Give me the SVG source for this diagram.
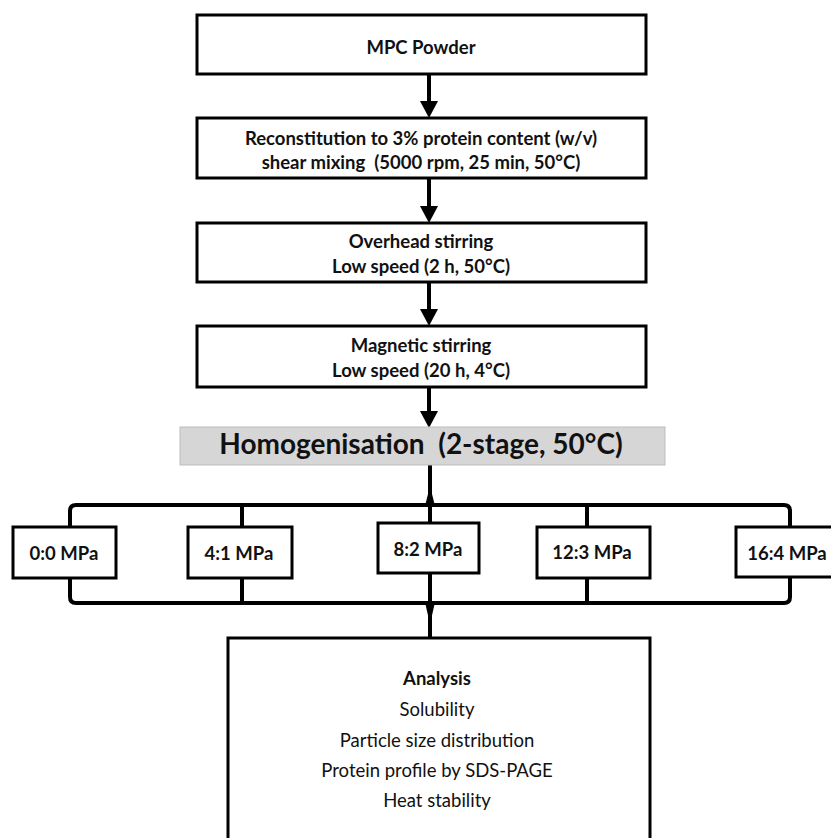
<svg xmlns="http://www.w3.org/2000/svg" width="831" height="838" viewBox="0 0 831 838">
<style>
.box{fill:#fff;stroke:#000;stroke-width:3}
.t{font-family:Lato,"Liberation Sans",sans-serif;font-weight:bold;fill:#111;text-anchor:middle}
.n{font-family:Lato,"Liberation Sans",sans-serif;fill:#111;text-anchor:middle}
.c{fill:none;stroke:#000;stroke-width:4}
</style>
<rect width="831" height="838" fill="#fff"/>
<g id="connectors">
<line class="c" x1="429" y1="74" x2="429" y2="101"/>
<path d="M420,101 L438,101 L429,118 Z"/>
<line class="c" x1="429" y1="178" x2="429" y2="206"/>
<path d="M420,206 L438,206 L429,223 Z"/>
<line class="c" x1="429" y1="282" x2="429" y2="309"/>
<path d="M420,309 L438,309 L429,326 Z"/>
<line class="c" x1="429" y1="387" x2="429" y2="411"/>
<path d="M420,411 L438,411 L429,428 Z"/>
<line class="c" x1="430" y1="465" x2="430" y2="523"/>
<path d="M425,506 L435,506 L431,490 L429,490 Z"/>
<path class="c" d="M70,527 V511 Q70,505 76,505 H784 Q790,505 790,511 V527"/>
<line class="c" x1="242" y1="505" x2="242" y2="527"/>
<line class="c" x1="587" y1="505" x2="587" y2="527"/>
<path class="c" d="M70,578 V597 Q70,603 76,603 H784 Q790,603 790,597 V578"/>
<line class="c" x1="242" y1="578" x2="242" y2="603"/>
<line class="c" x1="587" y1="578" x2="587" y2="603"/>
<line class="c" x1="430" y1="573" x2="430" y2="638"/>
<path d="M425,602 L435,602 L431,620 L429,620 Z"/>
</g>
<g id="mpc">
<rect class="box" x="197" y="15" width="449" height="59"/>
<text class="t" x="421" y="54" font-size="18.5">MPC Powder</text>
</g>
<g id="reconstitution">
<rect class="box" x="197" y="118" width="449" height="60"/>
<text class="t" x="421" y="145" font-size="18.5">Reconstitution to 3% protein content (w/v)</text>
<text class="t" x="421" y="169" font-size="18.5" xml:space="preserve">shear mixing  (5000 rpm, 25 min, 50°C)</text>
</g>
<g id="overhead">
<rect class="box" x="197" y="223" width="449" height="59"/>
<text class="t" x="421" y="248" font-size="18.5">Overhead stirring</text>
<text class="t" x="421" y="273" font-size="18.5">Low speed (2 h, 50°C)</text>
</g>
<g id="magnetic">
<rect class="box" x="197" y="326" width="449" height="61"/>
<text class="t" x="421" y="352" font-size="18.5">Magnetic stirring</text>
<text class="t" x="421" y="377" font-size="18.5">Low speed (20 h, 4°C)</text>
</g>
<g id="homogenisation">
<rect x="180" y="427" width="485" height="38" fill="#d6d6d6" stroke="#bdbdbd" stroke-width="1"/>
<text class="t" x="421" y="454" font-size="28" xml:space="preserve">Homogenisation  (2-stage, 50°C)</text>
</g>
<g id="p0">
<rect class="box" x="13" y="527" width="103" height="51"/>
<text class="t" x="64" y="560" font-size="18.5">0:0 MPa</text>
</g>
<g id="p4">
<rect class="box" x="188" y="527" width="104" height="51"/>
<text class="t" x="239" y="560" font-size="18.5">4:1 MPa</text>
</g>
<g id="p8">
<rect class="box" x="378" y="523" width="101" height="50"/>
<text class="t" x="428" y="556" font-size="18.5">8:2 MPa</text>
</g>
<g id="p12">
<rect class="box" x="537" y="527" width="113" height="51"/>
<text class="t" x="592" y="559" font-size="18.5">12:3 MPa</text>
</g>
<g id="p16">
<rect class="box" x="736" y="527" width="110" height="50"/>
<text class="t" x="787" y="560" font-size="18.5">16:4 MPa</text>
</g>
<g id="analysis">
<rect class="box" x="228" y="638" width="422" height="230"/>
<text class="t" x="437" y="685" font-size="18.5">Analysis</text>
<text class="n" x="437" y="716" font-size="18.5">Solubility</text>
<text class="n" x="437" y="747" font-size="18.5">Particle size distribution</text>
<text class="n" x="437" y="777" font-size="18.5">Protein profile by SDS-PAGE</text>
<text class="n" x="437" y="807" font-size="18.5">Heat stability</text>
</g>
</svg>
